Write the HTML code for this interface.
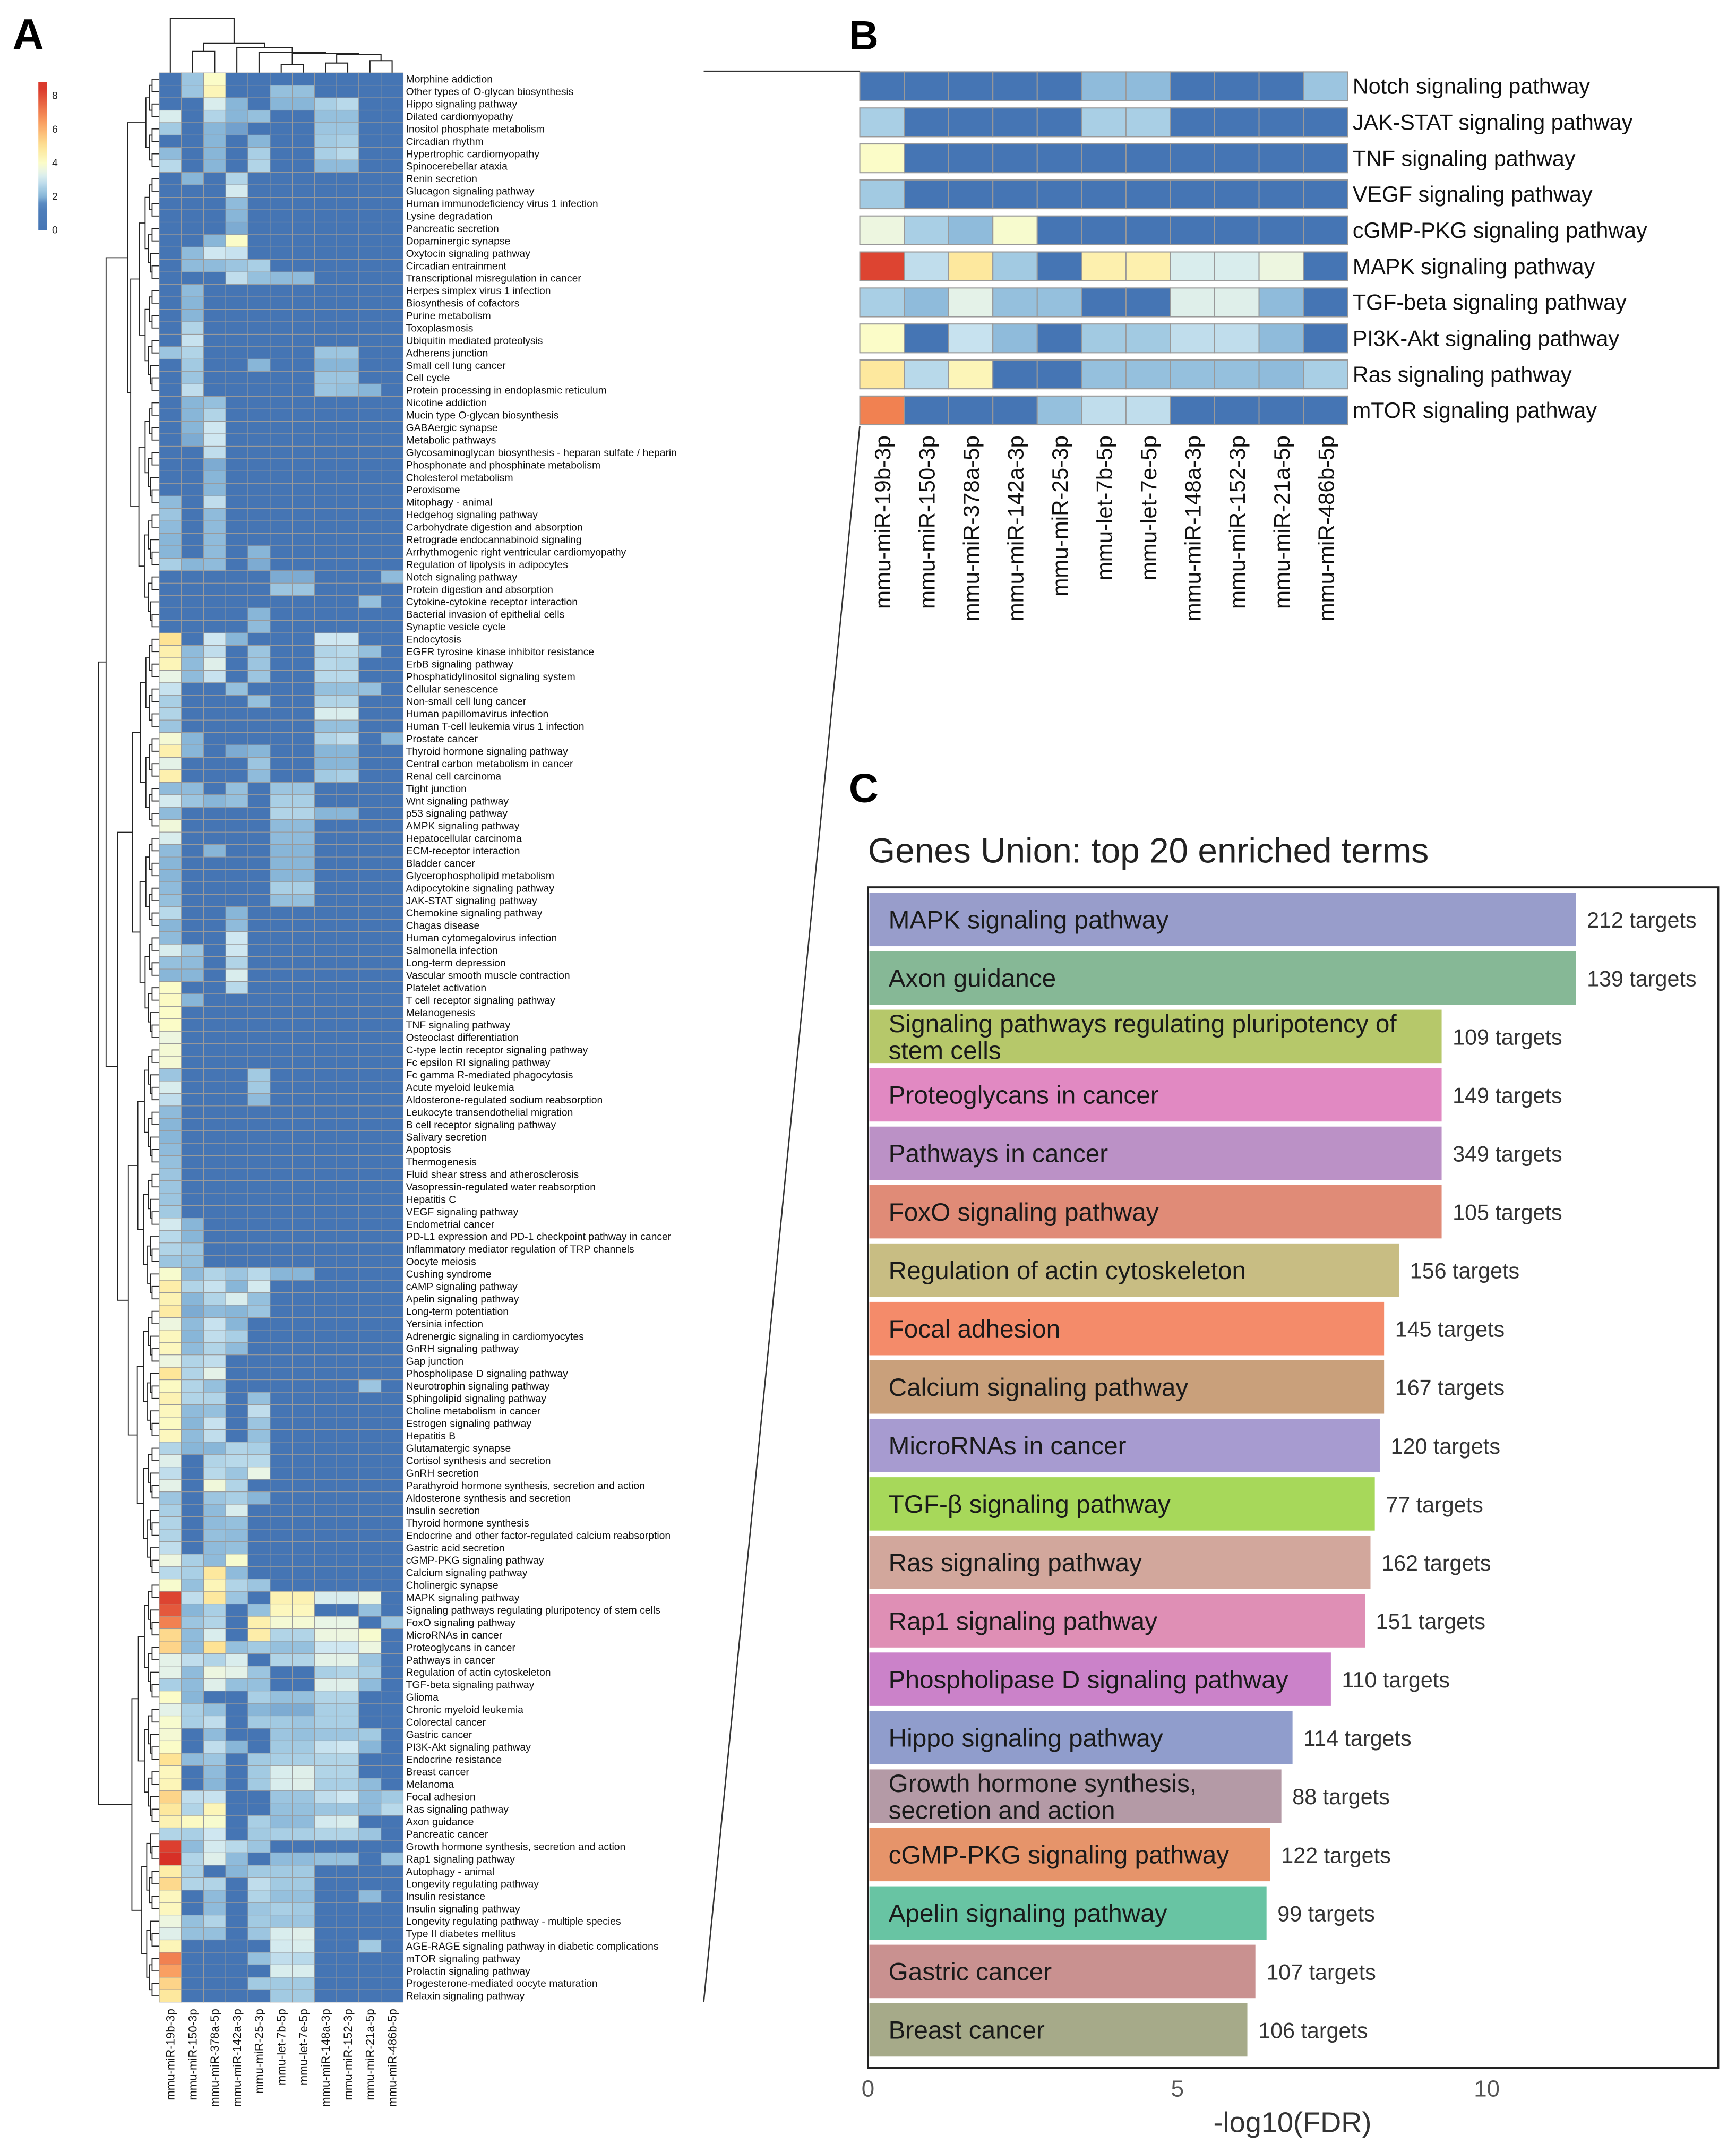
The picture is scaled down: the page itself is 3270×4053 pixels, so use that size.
<!DOCTYPE html>
<html><head><meta charset="utf-8"><title>miRNA pathway enrichment figure</title>
<style>html,body{margin:0;padding:0;background:#fff;}svg{display:block;}</style></head>
<body>
<svg id="fig" xmlns="http://www.w3.org/2000/svg" width="3270" height="4053" viewBox="0 0 1268 1571.6" font-family="'Liberation Sans', sans-serif">
<rect x="0" y="0" width="1268" height="1571.6" fill="#fff"/>
<text x="9" y="36" font-size="32" font-weight="bold">A</text>
<text x="620" y="36" font-size="30" font-weight="bold">B</text>
<text x="620" y="586" font-size="30" font-weight="bold">C</text>
<g id="panelA"></g>
<g id="panelB"></g>
<g id="panelC"></g>
<line x1="514" y1="52" x2="628" y2="52" stroke="#333" stroke-width="1"/>
<line x1="514" y1="1462" x2="628" y2="311" stroke="#333" stroke-width="1"/>
</svg>
<script>
const mirnas = ["mmu-miR-19b-3p","mmu-miR-150-3p","mmu-miR-378a-5p","mmu-miR-142a-3p","mmu-miR-25-3p","mmu-let-7b-5p","mmu-let-7e-5p","mmu-miR-148a-3p","mmu-miR-152-3p","mmu-miR-21a-5p","mmu-miR-486b-5p"];
const pathwaysA = ["Morphine addiction","Other types of O-glycan biosynthesis","Hippo signaling pathway","Dilated cardiomyopathy","Inositol phosphate metabolism","Circadian rhythm","Hypertrophic cardiomyopathy","Spinocerebellar ataxia","Renin secretion","Glucagon signaling pathway","Human immunodeficiency virus 1 infection","Lysine degradation","Pancreatic secretion","Dopaminergic synapse","Oxytocin signaling pathway","Circadian entrainment","Transcriptional misregulation in cancer","Herpes simplex virus 1 infection","Biosynthesis of cofactors","Purine metabolism","Toxoplasmosis","Ubiquitin mediated proteolysis","Adherens junction","Small cell lung cancer","Cell cycle","Protein processing in endoplasmic reticulum","Nicotine addiction","Mucin type O-glycan biosynthesis","GABAergic synapse","Metabolic pathways","Glycosaminoglycan biosynthesis - heparan sulfate / heparin","Phosphonate and phosphinate metabolism","Cholesterol metabolism","Peroxisome","Mitophagy - animal","Hedgehog signaling pathway","Carbohydrate digestion and absorption","Retrograde endocannabinoid signaling","Arrhythmogenic right ventricular cardiomyopathy","Regulation of lipolysis in adipocytes","Notch signaling pathway","Protein digestion and absorption","Cytokine-cytokine receptor interaction","Bacterial invasion of epithelial cells","Synaptic vesicle cycle","Endocytosis","EGFR tyrosine kinase inhibitor resistance","ErbB signaling pathway","Phosphatidylinositol signaling system","Cellular senescence","Non-small cell lung cancer","Human papillomavirus infection","Human T-cell leukemia virus 1 infection","Prostate cancer","Thyroid hormone signaling pathway","Central carbon metabolism in cancer","Renal cell carcinoma","Tight junction","Wnt signaling pathway","p53 signaling pathway","AMPK signaling pathway","Hepatocellular carcinoma","ECM-receptor interaction","Bladder cancer","Glycerophospholipid metabolism","Adipocytokine signaling pathway","JAK-STAT signaling pathway","Chemokine signaling pathway","Chagas disease","Human cytomegalovirus infection","Salmonella infection","Long-term depression","Vascular smooth muscle contraction","Platelet activation","T cell receptor signaling pathway","Melanogenesis","TNF signaling pathway","Osteoclast differentiation","C-type lectin receptor signaling pathway","Fc epsilon RI signaling pathway","Fc gamma R-mediated phagocytosis","Acute myeloid leukemia","Aldosterone-regulated sodium reabsorption","Leukocyte transendothelial migration","B cell receptor signaling pathway","Salivary secretion","Apoptosis","Thermogenesis","Fluid shear stress and atherosclerosis","Vasopressin-regulated water reabsorption","Hepatitis C","VEGF signaling pathway","Endometrial cancer","PD-L1 expression and PD-1 checkpoint pathway in cancer","Inflammatory mediator regulation of TRP channels","Oocyte meiosis","Cushing syndrome","cAMP signaling pathway","Apelin signaling pathway","Long-term potentiation","Yersinia infection","Adrenergic signaling in cardiomyocytes","GnRH signaling pathway","Gap junction","Phospholipase D signaling pathway","Neurotrophin signaling pathway","Sphingolipid signaling pathway","Choline metabolism in cancer","Estrogen signaling pathway","Hepatitis B","Glutamatergic synapse","Cortisol synthesis and secretion","GnRH secretion","Parathyroid hormone synthesis, secretion and action","Aldosterone synthesis and secretion","Insulin secretion","Thyroid hormone synthesis","Endocrine and other factor-regulated calcium reabsorption","Gastric acid secretion","cGMP-PKG signaling pathway","Calcium signaling pathway","Cholinergic synapse","MAPK signaling pathway","Signaling pathways regulating pluripotency of stem cells","FoxO signaling pathway","MicroRNAs in cancer","Proteoglycans in cancer","Pathways in cancer","Regulation of actin cytoskeleton","TGF-beta signaling pathway","Glioma","Chronic myeloid leukemia","Colorectal cancer","Gastric cancer","PI3K-Akt signaling pathway","Endocrine resistance","Breast cancer","Melanoma","Focal adhesion","Ras signaling pathway","Axon guidance","Pancreatic cancer","Growth hormone synthesis, secretion and action","Rap1 signaling pathway","Autophagy - animal","Longevity regulating pathway","Insulin resistance","Insulin signaling pathway","Longevity regulating pathway - multiple species","Type II diabetes mellitus","AGE-RAGE signaling pathway in diabetic complications","mTOR signaling pathway","Prolactin signaling pathway","Progesterone-mediated oocyte maturation","Relaxin signaling pathway"];
const valuesA = [
[0,2.3,4,0,0,0,0,0,0,0,0],[0,2.3,4.3,0,0,2.2,2.2,0,0,0,0],[0,0,3.2,2,0,2,2,2.5,2.7,0,0],[3.2,0,2.6,2,2.2,0,0,2.2,2.2,0,0],[2.4,0,2,1.8,0,0,0,2.3,2.3,0,0],
[0,0,2,0,2,0,0,2.4,2.5,0,0],[2.1,0,2,0,2.5,0,0,2.5,2.7,0,0],[2.7,0,2,0,2.6,0,0,2.1,2.1,0,0],[0,2,0,2.6],[0,0,0,3.1],
[0,0,0,2.1],[0,0,0,2],[0,0,0,1.9],[0,0,2,4],[0,2.1,3,2.9],
[0,2.1,2.1,2.3,2.5],[0,0,0,2.8,2.2,2.1,2.1],[0,2.1],[0,2],[0,2],
[0,2.6],[0,2.9],[2.3,2.6,0,0,0,0,0,2.3,2.3],[0,2.4,0,0,2,0,0,2,2],[0,2.3,0,0,0,0,0,2.3,2.3],
[0,2.8,0,0,0,0,0,2.3,2.2,2],[0,2,2.2],[0,2,2.6],[0,2,3],[0,1.9,3],
[0,0,2.8],[0,0,1.9],[0,0,2],[0,0,2],[2.1,0,2.8],
[2.3,0,2.1],[2.1,0,2.1],[2,0,2.1],[2,0,2.1,0,2],[2.5,2,2.1,0,1.9],
[0,0,0,0,0,1.9,1.9,0,0,0,2.1],[0,0,0,0,0,2.3,2.3],[0,0,0,0,0,0,0,0,0,2.2],[0,0,0,0,2],[0,0,0,0,2.1],
[5,0,3,2,0,0,0,3,3],[4.5,2.1,2.8,0,2.3,0,0,2.6,2.7,2.2],[4.3,2.1,3.3,0,2.3,0,0,2.7,2.6],[3.5,2.1,2.9,0,2.3,0,0,2.7,2.7],[2.9,0,0,2.2,0,0,0,2.2,2.2,2.2],
[2.5,0,0,0,2.2,0,0,2.6,2.6],[2.6,0,0,0,0,0,0,3.2,3.2],[2.3,0,0,0,0,0,0,2.2,2.2],[3.8,2,0,0,0,0,0,2.6,2.8,0,2],[4.5,2,0,1.9,2,0,0,2,2],
[3.4,0,0,0,2.3,0,0,2,2],[4.5,0,0,0,2.1,0,0,2.4,2.5],[2.1,2.1,0,2.2,0,2.3,2.3],[3.1,2.3,2,2.2,0,2.5,2.5],[2.1,0,0,0,0,2.6,2.6,2,2],
[3.7,0,0,0,0,2.1,2.1],[3.2,0,0,0,0,2.1,2.1],[2.1,0,2,0,0,2,2],[2,0,0,0,0,2,2],[2,0,0,0,0,2,2],
[2.1,0,0,0,0,2.5,2.5],[2.2,0,0,0,0,2.2,2.2],[2.7,0,0,2],[2,0,0,2.1],[2.1,0,0,3],
[3.2,2.3,0,3],[2.2,2.1,0,2.6],[2,2,0,3.2],[4,0,0,2.7],[4.1,2],
[4],[4],[3.6],[3.8],[3.8],
[2.3,0,0,0,2.4],[3.2,0,0,0,2.4],[2.8,0,0,0,2.1],[2.1],[2],
[2],[2.1],[2.2],[2.3],[2.3],
[2.3],[2.4],[3.1,2],[2.7,2],[2.6,2.3],
[2.3,2.2],[3.9,2.1,2.6,2.3,2.7,2,2],[4.6,2.6,2.9,2,3.1],[4.4,2,2.6,3.2,2.2],[4.7,1.9,2.1,2,2.3],
[3.6,2.1,2.9,2],[4.2,2,2.8,2.5],[4.2,2.1,2.6,2.1],[3.6,2.6,2.8],[4.9,2.6,3.4],
[4.1,2.6,2.2,0,0,0,0,0,0,2.3],[4.4,2.6,2.6,0,2.2],[4.2,2.1,2.2,0,2.8],[4.1,2,2.9,0,2.3],[4.2,2.1,2.8,0,2.2],
[2.6,2,2,2.6,2.5],[3.3,0,2.6,2.7,2.7],[2.8,0,2.7,2.3,3.5],[3.4,0,3.7,2.6],[2.3,0,2.3,2.5,2],
[2.5,0,2.1,3.2],[2.6,0,2.1,2.2],[2.6,0,2.2,2.1],[2.8,0,2.1,2.2],[3.6,2.5,2.1,3.9],
[2.7,2.5,4.8,2.1],[3.9,2.2,4.3,2.6,2.3],[8.2,2.8,4.8,2.3,0,4.4,4.4,3.2,3.2,3.6,0],[7.8,2,2.5,0,2.2,4.2,4.2,0,0,2.2,0],[7.0,2.3,2.6,0,4.5,3.8,3.8,3.5,3.5,0,2.3],
[5.2,2.1,3.2,0,4.6,2.6,2.6,3.6,3.6,3.9,0],[5.3,2.1,5.0,2.2,2.4,2.2,2.2,3.0,3.0,3.6,0],[3.4,2.8,2.6,3.2,0,2.6,2.6,3.4,3.4,2.3,0],[3.4,2.1,3.6,3.4,2.3,0,0,2.5,2.6,2.5,0],[2.5,2.1,3.3,2.2,2.2,0,0,3.3,3.3,2.1,0],
[4,2,0,0,2.5,2.2,2.2,2.6,2.6,0,0],[3.4,2.5,2.2,0,2,1.9,1.9,2.5,2.5,0,0],[3.9,2.5,2.8,0,2.4,2.4,2.3,2.5,2.5,0,0],[3.8,0,2.1,0,0,2.3,2.2,2.3,2.3,2.4,0],[4,0,2.8,2,0,2.4,2.4,2.9,3.0,2,0],
[5,2.1,2.3,0,2.4,2.5,2.5,2.6,2.6,0,0],[4.2,0,2.1,0,2.4,3.2,3.3,2.6,2.6,0,0],[4.3,0,2,0,2.4,3.2,3.3,2.5,2.5,2.1,0],[5.3,2.8,2.9,0,0,2.3,2.3,2.8,3.0,2.1,2.4],[4.8,2.6,4.3,0,0,2.2,2.2,2.3,2.3,2.1,2.7],
[4.4,4.1,3.9,0,2.5,2.1,2.1,3.1,3.2,0,0],[2.6,2.5,3,0,2.4,2.5,2.5,2.6,2.6,2.3,0],[8.3,2.1,3.1,2.7,2.3,0,0,0,0,0,0],[8.6,2.6,3.3,2.1,0,2.1,2.1,2.2,2.2,0,2.2],[4.6,2.5,0,2,2.4,2.4,2.4,0,0,0,0],
[5.2,2.6,2.6,0,2.8,2.4,2.4,0,0,0,0],[4.2,0,2.1,0,2.6,2.2,2.2,0,0,2.1,0],[4.2,0,2.1,0,2.3,2.5,2.4,0,0,0,0],[3.6,2.2,2.6,0,2.4,2.3,2.3,0,0,0,0],[3.3,2.2,2.2,0,2.3,3.2,3.3,0,0,0,0],
[4.3,0,0,0,0,3.1,3.2,0,0,2.4,0],[7.0,0,0,0,2.2,2.8,2.7,0,0,0,0],[6.4,0,0,0,0,3.2,3.2,0,0,0,0],[5.3,0,0,0,2.4,2.4,2.4,0,0,0,0],[4.8,0,0,0,0,2.4,2.4,0,0,0,0]
];
const colorbarTicks = [0,2,4,6,8];

const pathwaysB = ["Notch signaling pathway","JAK-STAT signaling pathway","TNF signaling pathway","VEGF signaling pathway","cGMP-PKG signaling pathway","MAPK signaling pathway","TGF-beta signaling pathway","PI3K-Akt signaling pathway","Ras signaling pathway","mTOR signaling pathway"];
const valuesB = [
[0,0,0,0,0,2.1,2.1,0,0,0,2.3],
[2.5,0,0,0,0,2.5,2.5,0,0,0,0],
[4,0,0,0,0,0,0,0,0,0,0],
[2.4,0,0,0,0,0,0,0,0,0,0],
[3.6,2.5,2.1,3.9,0,0,0,0,0,0,0],
[8.2,2.8,4.8,2.4,0,4.5,4.5,3.2,3.2,3.6,0],
[2.5,2.1,3.4,2.2,2.2,0,0,3.3,3.3,2.1,0],
[4,0,2.9,2.1,0,2.4,2.4,2.8,2.8,2.1,0],
[4.8,2.7,4.3,0,0,2.2,2.2,2.2,2.2,2.1,2.5],
[7.0,0,0,0,2.2,2.8,2.8,0,0,0,0]
];

const termsC = ["MAPK signaling pathway","Axon guidance","Signaling pathways regulating pluripotency of\nstem cells","Proteoglycans in cancer","Pathways in cancer","FoxO signaling pathway","Regulation of actin cytoskeleton","Focal adhesion","Calcium signaling pathway","MicroRNAs in cancer","TGF-\u03b2 signaling pathway","Ras signaling pathway","Rap1 signaling pathway","Phospholipase D signaling pathway","Hippo signaling pathway","Growth hormone synthesis,\nsecretion and action","cGMP-PKG signaling pathway","Apelin signaling pathway","Gastric cancer","Breast cancer"];
const fdrC = [11.44,11.44,9.27,9.27,9.27,9.27,8.58,8.34,8.34,8.27,8.19,8.12,8.03,7.48,6.86,6.68,6.50,6.44,6.26,6.13];
const targetsC = [212,139,109,149,349,105,156,145,167,120,77,162,151,110,114,88,122,99,107,106];
const barColorsC = ["#989dcb","#86b896","#b6c86a","#e189c2","#bb91c6","#e08b77","#c8bd83","#f48b6a","#c9a07b","#a79bd0","#a7d85a","#d2a79c","#df8fb5","#cb82c9","#909dcc","#b49aa6","#e6946a","#68c4a3","#c99190","#a6aa89"];
const xTicksC = [0,5,10];

const NS="http://www.w3.org/2000/svg";
function mk(tag, attrs, parent){const e=document.createElementNS(NS,tag);for(const k in attrs)e.setAttribute(k,attrs[k]);parent.appendChild(e);return e;}
const stops=[[0,[69,117,180]],[1.5,[80,128,188]],[2,[136,182,216]],[2.5,[169,207,229]],[3,[207,231,241]],[3.5,[233,245,230]],[4,[251,252,200]],[5,[254,227,148]],[6.5,[249,154,94]],[8.6,[215,48,39]]];
function colorOf(v){
  if(v<=stops[0][0])return "rgb("+stops[0][1].join(",")+")";
  for(let i=1;i<stops.length;i++){if(v<=stops[i][0]){const a=stops[i-1],b=stops[i];const t=(v-a[0])/(b[0]-a[0]);return "rgb("+a[1].map((c,j)=>Math.round(c+(b[1][j]-c)*t)).join(",")+")";}}
  return "rgb("+stops[stops.length-1][1].join(",")+")";
}
function val(row,j){return row[j]===undefined?0:row[j];}

// ---------- Panel A ----------
const A=document.getElementById('panelA');
const ax0=116.3, acw=16.2, ay0=53.2, arh=9.09;
const axX=j=>ax0+j*acw, axY=i=>ay0+i*arh;
pathwaysA.forEach((name,i)=>{
  for(let j=0;j<mirnas.length;j++){
    const r=mk('rect',{x:axX(j),y:axY(i),width:acw,height:arh,fill:colorOf(val(valuesA[i],j)),stroke:'#9a9a9a','stroke-width':0.45},A);
    
    
  }
  const t=mk('text',{x:296.5,y:axY(i)+arh/2+2.6,'font-size':7.5,fill:'#111'},A);
  t.textContent=name;
  
  
});
mirnas.forEach((m,j)=>{
  const cx=axX(j)+acw/2+3;
  const t=mk('text',{x:cx,y:1467,'font-size':8.6,fill:'#111','text-anchor':'end',transform:`rotate(-90 ${cx} 1467)`},A);
  t.textContent=m;
  
  
});
// colorbar
const gd=mk('defs',{},A);const lg=mk('linearGradient',{id:'cbg',x1:0,y1:1,x2:0,y2:0},gd);
for(let v=0;v<=8.8;v+=0.4){mk('stop',{offset:(v/8.8),'stop-color':colorOf(v)},lg);}
const cbTop=60,cbBot=168,cbMax=8.8;const cbY=v=>cbBot-(cbBot-cbTop)*v/cbMax;
const cb=mk('rect',{x:28,y:cbTop,width:6.5,height:cbBot-cbTop,fill:'url(#cbg)'},A);


colorbarTicks.forEach(v=>{
  const t=mk('text',{x:38,y:cbY(v)+2.5,'font-size':7.5,fill:'#222'},A);
  t.textContent=v;
  
  
});
// column dendrogram
const colTree={h:13.3,c:[{l:0},{h:31.7,c:[{h:37.5,c:[{l:1},{l:2}]},{h:34.9,c:[{l:3},{h:38.1,c:[{l:4},{h:38.8,c:[{h:47,c:[{l:5},{l:6}]},{h:39.8,c:[{h:46,c:[{l:7},{l:8}]},{h:44.3,c:[{l:9},{l:10}]}]}]}]}]}]}]};
const dend=mk('g',{stroke:'#222','stroke-width':0.8,fill:'none'},A);


function drawCol(n){
  if(n.l!==undefined)return {x:axX(n.l)+acw/2,y:53};
  const a=drawCol(n.c[0]),b=drawCol(n.c[1]);
  mk('path',{d:`M${a.x},${a.y}V${n.h}H${b.x}V${b.y}`},dend);
  return {x:(a.x+b.x)/2,y:n.h};
}
drawCol(colTree);
// row dendrogram
const rdend=mk('g',{stroke:'#222','stroke-width':0.7,fill:'none'},A);


const fixedSplits={"0-154":121,"0-120":45,"45-120":78,"121-154":141,"0-44":8,"8-44":26};
function drawRow(lo,hi){
  if(lo===hi)return {x:116,y:axY(lo)+arh/2};
  let s=fixedSplits[lo+"-"+hi];if(s===undefined)s=Math.floor((lo+hi+1)/2);
  const a=drawRow(lo,s-1),b=drawRow(s,hi);
  const x=115-43*Math.pow((hi-lo+1)/155,0.55);
  mk('path',{d:`M${a.x},${a.y}H${x}V${b.y}H${b.x}`},rdend);
  return {x:x,y:(a.y+b.y)/2};
}
drawRow(0,154);

// ---------- Panel B ----------
const B=document.getElementById('panelB');
const bx0=628,bcw=32.4,by0=52.5,brs=26.3,brh=21;
const bX=j=>bx0+j*bcw, bY=i=>by0+i*brs;
pathwaysB.forEach((name,i)=>{
  for(let j=0;j<mirnas.length;j++){
    const r=mk('rect',{x:bX(j),y:bY(i),width:bcw,height:brh,fill:colorOf(valuesB[i][j]),stroke:'#999','stroke-width':0.8},B);
    
    
  }
  const t=mk('text',{x:988,y:bY(i)+brh/2+5.5,'font-size':16,fill:'#111'},B);
  t.textContent=name;
  
  
});
mirnas.forEach((m,j)=>{
  const cx=bX(j)+bcw/2+6;
  const t=mk('text',{x:cx,y:318,'font-size':16.3,fill:'#111','text-anchor':'end',transform:`rotate(-90 ${cx} 318)`},B);
  t.textContent=m;
  
  
});

// ---------- Panel C ----------
const C=document.getElementById('panelC');
const cx0=634, cPerUnit=45.2, cy0=671.5, cStep=42.68, cBarH=39;
const cX=v=>cx0+v*cPerUnit, cY=i=>cy0+i*cStep;
const title=mk('text',{x:634,y:630,'font-size':25.5,fill:'#222'},C);
title.textContent="Genes Union: top 20 enriched terms";


termsC.forEach((term,i)=>{
  const r=mk('rect',{x:cX(0)+1,y:cY(i)-cBarH/2,width:cX(fdrC[i])-cX(0)-1,height:cBarH,fill:barColorsC[i]},C);
  
  
  const lines=term.split("\n");
  const t=mk('text',{x:649,y:cY(i)+(lines.length>1?-3:6.5),'font-size':18.5,fill:'#1a1a1a'},C);
  
  
  lines.forEach((ln,k)=>{const ts=mk('tspan',{x:649,dy:k===0?0:19.5},t);ts.textContent=ln;});
  const v=mk('text',{x:cX(fdrC[i])+8,y:cY(i)+6,'font-size':16,fill:'#333'},C);
  v.textContent=targetsC[i]+" targets";
  
  
});
const box=mk('rect',{x:634,y:648,width:621,height:862,fill:'none',stroke:'#222','stroke-width':1.5},C);


xTicksC.forEach(v=>{
  const t=mk('text',{x:cX(v),y:1531,'font-size':17,fill:'#555','text-anchor':'middle'},C);
  t.textContent=v;
  
  
});
const xl=mk('text',{x:944,y:1557,'font-size':21,fill:'#333','text-anchor':'middle'},C);
xl.textContent="-log10(FDR)";


</script>
</body></html>
